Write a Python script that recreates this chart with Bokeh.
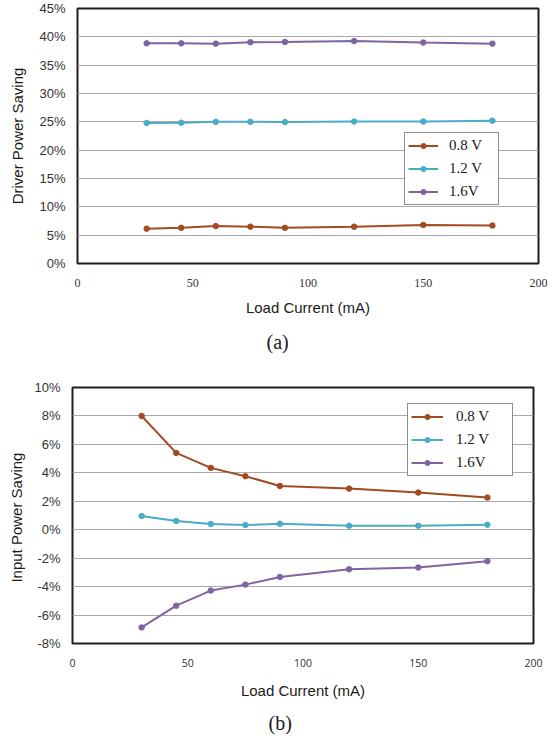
from bokeh.plotting import figure
from bokeh.models import Range1d, FixedTicker, PrintfTickFormatter, Title, Legend, LegendItem
from bokeh.embed import file_html
from bokeh.resources import INLINE

# ---- data ----
load_current = [30, 45, 60, 75, 90, 120, 150, 180]
driver_08 = [6.15, 6.3, 6.6, 6.5, 6.3, 6.5, 6.8, 6.7]
driver_12 = [24.8, 24.85, 25.0, 25.0, 24.95, 25.05, 25.05, 25.2]
driver_16 = [38.85, 38.85, 38.8, 39.05, 39.1, 39.25, 39.0, 38.8]
input_08 = [8.0, 5.4, 4.35, 3.76, 3.08, 2.89, 2.61, 2.26]
input_12 = [0.96, 0.61, 0.40, 0.33, 0.42, 0.28, 0.28, 0.35]
input_16 = [-6.87, -5.34, -4.28, -3.86, -3.32, -2.78, -2.66, -2.21]
series_labels = ["0.8 V", "1.2 V", "1.6V"]
x_ticks = [0, 50, 100, 150, 200]
driver_ticks = [0, 5, 10, 15, 20, 25, 30, 35, 40, 45]
input_ticks = [-8, -6, -4, -2, 0, 2, 4, 6, 8, 10]

colors = ["#A24B22", "#4BACC6", "#8064A2"]


def make_fig(height, left, right, top, bottom, yr, yticks, ylabel, xfont, xfont_size,
             ylab_standoff, xlab_standoff, caption, cap_off, cap_standoff, series,
             leg_loc, leg_gw, leg_ls, leg_lw):
    p = figure(width=556, height=height, output_backend="svg", toolbar_location=None,
               x_range=Range1d(0, 200), y_range=Range1d(*yr),
               min_border_left=left, min_border_right=right,
               min_border_top=top, min_border_bottom=bottom)
    p.outline_line_color = "#1e1e1e"
    p.outline_line_width = 2
    p.xgrid.visible = False
    p.ygrid.grid_line_color = "#a8a8a8"
    p.ygrid.grid_line_width = 1.2
    p.xaxis.ticker = FixedTicker(ticks=x_ticks)
    p.yaxis.ticker = FixedTicker(ticks=yticks)
    p.yaxis.formatter = PrintfTickFormatter(format="%d%%")
    for ax in (p.xaxis[0], p.yaxis[0]):
        ax.axis_line_color = None
        ax.major_tick_line_color = None
        ax.minor_tick_line_color = None
        ax.major_tick_out = 0
        ax.major_tick_in = 0
        ax.axis_label_text_font = "Liberation Sans"
        ax.axis_label_text_font_style = "normal"
        ax.axis_label_text_font_size = "15px"
        ax.axis_label_text_color = "#1a1a1a"
        ax.major_label_text_color = "#333333"
    p.yaxis.major_label_standoff = 12
    p.xaxis.major_label_standoff = 15
    p.yaxis.major_label_text_font = "Liberation Sans"
    p.yaxis.major_label_text_font_size = "13px"
    p.yaxis.axis_label_standoff = ylab_standoff
    p.xaxis.major_label_text_font = xfont
    p.xaxis.major_label_text_font_size = xfont_size
    p.xaxis.axis_label_standoff = xlab_standoff
    p.yaxis.axis_label = ylabel
    p.xaxis.axis_label = "Load Current (mA)"

    items = []
    for lab, ys, c in zip(series_labels, series, colors):
        r1 = p.line(load_current, ys, line_color=c, line_width=2)
        r2 = p.scatter(load_current, ys, marker="circle", size=5.5, fill_color=c, line_color=c)
        items.append(LegendItem(label=lab, renderers=[r1, r2]))
    leg = Legend(items=items, location=leg_loc, padding=3, spacing=4, margin=0,
                 glyph_width=leg_gw, glyph_height=13, label_height=19, label_width=leg_lw,
                 label_standoff=leg_ls, label_text_font="Liberation Serif",
                 label_text_font_size="15px", label_text_color="#1a1a1a",
                 border_line_color="#1e1e1e", border_line_width=1.2,
                 background_fill_color="white", background_fill_alpha=1.0)
    p.add_layout(leg, "center")
    p.add_layout(Title(text=caption, align="left", offset=cap_off, standoff=cap_standoff,
                       text_font="Liberation Serif", text_font_size="20px",
                       text_font_style="normal", text_color="#1a1a1a"), "below")
    return p


p1 = make_fig(365, 77, 18, 8, 102, (0, 45), driver_ticks, "Driver Power Saving",
              "Liberation Serif", "12px", 10, 9, "(a)", 189, 20,
              [driver_08, driver_12, driver_16], (327, 58), 30, 11, 46)
p2 = make_fig(376, 72, 23, 22, 98, (-8, 10), input_ticks, "Input  Power Saving",
              "Open Sans", "10.5px", 6, 12, "(b)", 196, 16,
              [input_08, input_12, input_16], (335, 167), 32, 13, 53)

# two separate roots so the frames are not aligned to each other
open("out.html", "w").write(file_html([p1, p2], INLINE))
